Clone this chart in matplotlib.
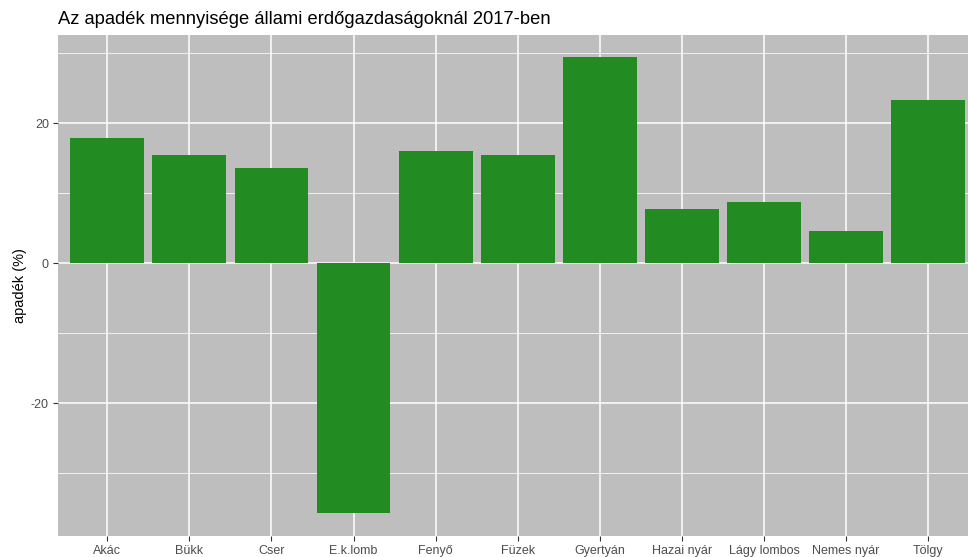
import matplotlib
matplotlib.use("Agg")
import matplotlib.pyplot as plt
from matplotlib.ticker import MultipleLocator

categories = ["Akác", "Bükk", "Cser", "E.k.lomb", "Fenyő", "Füzek", "Gyertyán",
              "Hazai nyár", "Lágy lombos", "Nemes nyár", "Tölgy"]
values = [17.9, 15.5, 13.6, -35.7, 16.1, 15.5, 29.4, 7.8, 8.7, 4.6, 23.3]
title = "Az apadék mennyisége állami erdőgazdaságoknál 2017-ben"
ylabel = "apadék (%)"

plt.rcParams['font.family'] = ['Liberation Sans', 'DejaVu Sans']
plt.rcParams['axes.unicode_minus'] = False

fig = plt.figure(figsize=(9.68, 5.57), dpi=100)
ax = fig.add_axes([58/968, 21/557, 919.5/968, 501.3/557])
ax.set_facecolor("#BEBEBE")

x = list(range(1, len(categories) + 1))
ax.bar(x, values, width=0.9, color="#228B22", zorder=3)

ax.set_xlim(0.4, len(categories) + 0.6)
lo, hi = min(values), max(values)
pad = (hi - lo) * 0.05
ax.set_ylim(lo - pad, hi + pad)

ax.set_xticks(x)
ax.set_xticklabels(categories)
ax.yaxis.set_major_locator(MultipleLocator(20))
ax.yaxis.set_minor_locator(MultipleLocator(10))

ax.grid(which="major", color="white", linewidth=1.1, zorder=0)
ax.grid(which="minor", axis="y", color="white", linewidth=0.55, zorder=0)
ax.set_axisbelow(True)

for s in ax.spines.values():
    s.set_visible(False)

ax.tick_params(axis="both", which="major", length=3.5, width=0.8, color="#333333",
               labelcolor="#4D4D4D", labelsize=9, pad=3)
ax.tick_params(axis="both", which="minor", length=0)

ax.set_ylabel(ylabel, fontsize=10.5, color="black", labelpad=3)
fig.text(58/968, 1 - 24/557, title, fontsize=13.2, color="black", ha="left", va="baseline")

fig.savefig("out.png", dpi=100)
